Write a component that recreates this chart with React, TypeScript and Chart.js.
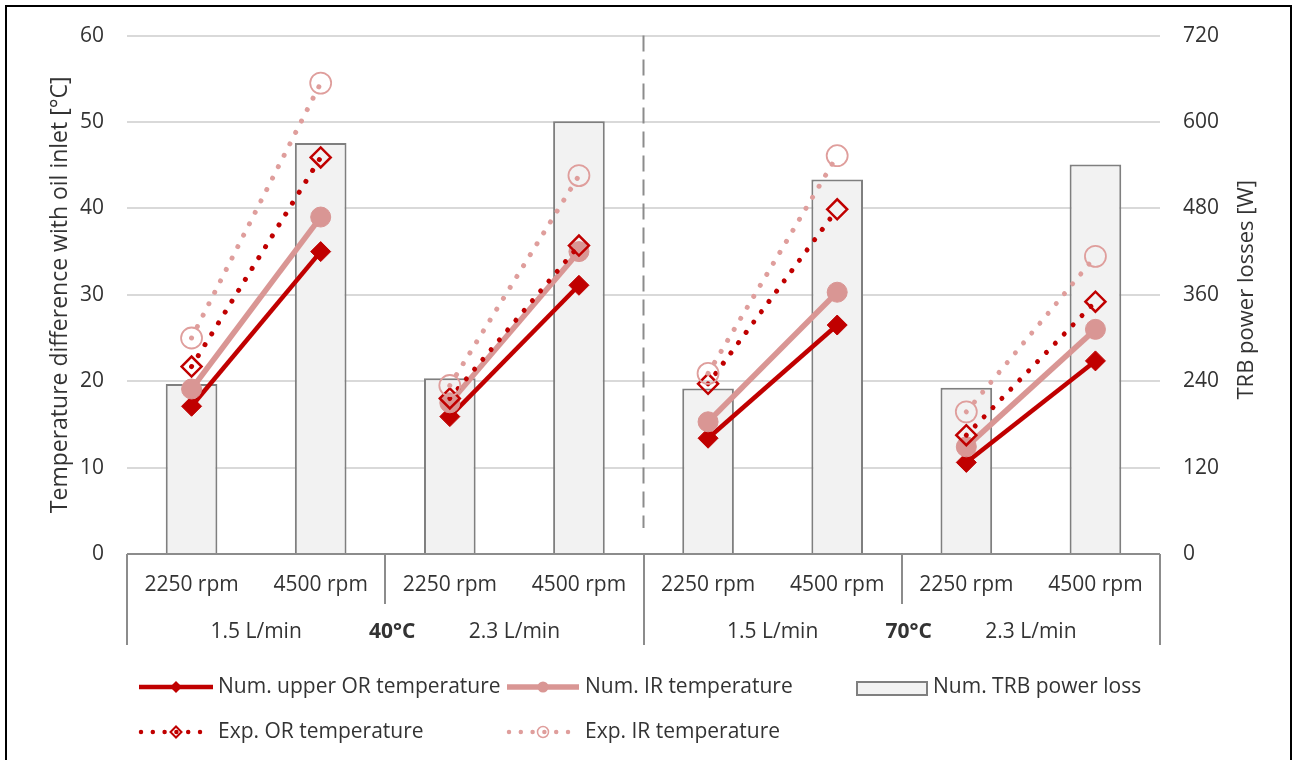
import React, { useEffect, useRef } from "react";
import { Chart, registerables } from "chart.js";

Chart.register(...registerables);

// Operating points: two speeds per flow rate, two flow rates per oil temperature
const speedLabels = ["2250 rpm", "4500 rpm", "2250 rpm", "4500 rpm", "2250 rpm", "4500 rpm", "2250 rpm", "4500 rpm"];
const flowLabels = ["1.5 L/min", "2.3 L/min", "1.5 L/min", "2.3 L/min"];
const oilTempLabels = ["40°C", "70°C"];

// Right axis: TRB power loss [W]
const powerLoss = [236, 571, 244, 601, 230, 520, 231, 541];

// Left axis: temperature difference with oil inlet [°C]
const numOuterRing = [17.1, 35.0, 15.9, 31.1, 13.4, 26.5, 10.6, 22.35];
const numInnerRing = [19.1, 39.0, 17.5, 35.0, 15.3, 30.3, 12.4, 26.0];
const expOuterRing = [21.7, 45.9, 18.0, 35.7, 19.7, 39.9, 13.75, 29.2];
const expInnerRing = [25.0, 54.5, 19.5, 43.8, 20.9, 46.1, 16.45, 34.45];

const leftTicks = { min: 0, max: 60, step: 10 };
const rightTicks = { min: 0, max: 720, step: 120 };

const DARK_RED = "#c00000";
const PINK = "#d99694";
const PINK_LIGHT = "#df9e9c";
const AXIS_GREY = "#8c8c8c";
const GRID_GREY = "#d9d9d9";
const TEXT = "#333333";
const FONT = "'Open Sans', sans-serif";

const DOT_DASH = [0.001, 12.8];

// Hide the connector between the two operating-point pairs
const pairSegment = (color: string) => ({
  borderColor: (ctx: any) => (ctx.p0DataIndex % 2 === 1 ? "rgba(0,0,0,0)" : color),
});

function diamond(ctx: CanvasRenderingContext2D, x: number, y: number, r: number) {
  ctx.beginPath();
  ctx.moveTo(x, y - r);
  ctx.lineTo(x + r, y);
  ctx.lineTo(x, y + r);
  ctx.lineTo(x - r, y);
  ctx.closePath();
}

function circle(ctx: CanvasRenderingContext2D, x: number, y: number, r: number) {
  ctx.beginPath();
  ctx.arc(x, y, r, 0, Math.PI * 2);
  ctx.closePath();
}

const decorations = {
  id: "decorations",
  beforeDatasetsDraw(chart: any) {
    const { ctx, chartArea, scales } = chart;
    const x = scales.x;
    // dashed divider between the two oil temperatures
    const mid = (x.getPixelForValue(3) + x.getPixelForValue(4)) / 2;
    ctx.save();
    ctx.strokeStyle = AXIS_GREY;
    ctx.lineWidth = 2;
    ctx.setLineDash([16, 8]);
    ctx.beginPath();
    ctx.moveTo(mid, chartArea.top);
    ctx.lineTo(mid, chartArea.bottom - 26);
    ctx.stroke();
    ctx.restore();
  },
  afterDraw(chart: any) {
    const { ctx, chartArea, scales } = chart;
    const x = scales.x;
    const n = speedLabels.length;
    const px = (i: number) => x.getPixelForValue(i);
    const boundary = (i: number) =>
      i === 0 ? chartArea.left : i === n ? chartArea.right : (px(i - 1) + px(i)) / 2;

    ctx.save();
    // category axis line and group separators
    ctx.strokeStyle = AXIS_GREY;
    ctx.lineWidth = 2;
    ctx.beginPath();
    ctx.moveTo(chartArea.left, chartArea.bottom);
    ctx.lineTo(chartArea.right, chartArea.bottom);
    ctx.stroke();
    for (let i = 0; i <= n; i += 2) {
      const bx = Math.round(boundary(i));
      const major = i % 4 === 0;
      ctx.beginPath();
      ctx.moveTo(bx, chartArea.bottom);
      ctx.lineTo(bx, chartArea.bottom + (major ? 91 : 50));
      ctx.stroke();
    }

    // category labels
    ctx.fillStyle = TEXT;
    ctx.textAlign = "center";
    ctx.textBaseline = "middle";
    ctx.font = `21px ${FONT}`;
    speedLabels.forEach((s, i) => ctx.fillText(s, px(i), chartArea.bottom + 31));
    flowLabels.forEach((s, g) => ctx.fillText(s, (px(2 * g) + px(2 * g + 1)) / 2, chartArea.bottom + 78));
    ctx.font = `bold 21px ${FONT}`;
    oilTempLabels.forEach((s, t) => ctx.fillText(s, boundary(4 * t + 2) + 7, chartArea.bottom + 78));

    // axis titles
    ctx.font = `23px ${FONT}`;
    ctx.save();
    ctx.translate(60, (chartArea.top + chartArea.bottom) / 2);
    ctx.rotate(-Math.PI / 2);
    ctx.fillText("Temperature difference with oil inlet [°C]", 0, 0);
    ctx.restore();
    ctx.font = `22px ${FONT}`;
    ctx.save();
    ctx.translate(1247, (chartArea.top + chartArea.bottom) / 2 - 5);
    ctx.rotate(-Math.PI / 2);
    ctx.fillText("TRB power losses [W]", 0, 0);
    ctx.restore();

    // legend
    ctx.font = `21px ${FONT}`;
    ctx.textAlign = "left";
    const row1 = 687;
    const row2 = 732;
    const solidSample = (x0: number, x1: number, y: number, color: string, w: number) => {
      ctx.strokeStyle = color;
      ctx.lineWidth = w;
      ctx.setLineDash([]);
      ctx.lineCap = "butt";
      ctx.beginPath();
      ctx.moveTo(x0, y);
      ctx.lineTo(x1, y);
      ctx.stroke();
    };
    const dottedSample = (x0: number, x1: number, y: number, color: string) => {
      ctx.strokeStyle = color;
      ctx.lineWidth = 4.5;
      ctx.setLineDash([0.001, 11.8]);
      ctx.lineCap = "round";
      ctx.beginPath();
      ctx.moveTo(x0, y);
      ctx.lineTo(x1, y);
      ctx.stroke();
      ctx.setLineDash([]);
    };

    solidSample(139, 213, row1, DARK_RED, 4.5);
    diamond(ctx, 176, row1, 6);
    ctx.fillStyle = DARK_RED;
    ctx.fill();
    ctx.fillStyle = TEXT;
    ctx.fillText("Num. upper OR temperature", 218, row1);

    solidSample(507, 579, row1, PINK, 5.5);
    circle(ctx, 543, row1, 5.5);
    ctx.fillStyle = PINK;
    ctx.fill();
    ctx.fillStyle = TEXT;
    ctx.fillText("Num. IR temperature", 585, row1);

    ctx.fillStyle = "#f2f2f2";
    ctx.fillRect(857, 682, 70, 13);
    ctx.strokeStyle = "#7f7f7f";
    ctx.lineWidth = 2;
    ctx.strokeRect(857, 682, 70, 13);
    ctx.fillStyle = TEXT;
    ctx.fillText("Num. TRB power loss", 933, row1);

    dottedSample(141, 211, row2, DARK_RED);
    diamond(ctx, 176, row2, 5.5);
    ctx.strokeStyle = DARK_RED;
    ctx.lineWidth = 2;
    ctx.stroke();
    ctx.fillStyle = TEXT;
    ctx.fillText("Exp. OR temperature", 218, row2);

    dottedSample(509, 579, row2, PINK_LIGHT);
    circle(ctx, 543, row2, 5.5);
    ctx.strokeStyle = PINK_LIGHT;
    ctx.lineWidth = 1.5;
    ctx.stroke();
    ctx.fillStyle = TEXT;
    ctx.fillText("Exp. IR temperature", 585, row2);

    // outer frame
    ctx.strokeStyle = "#000000";
    ctx.lineWidth = 2;
    ctx.strokeRect(6, 6, 1285, 770);
    ctx.restore();
  },
};

export default function App() {
  const canvasRef = useRef<HTMLCanvasElement | null>(null);

  useEffect(() => {
    document.body.style.margin = "0";
    const canvas = canvasRef.current;
    if (!canvas) return;

    const chart = new Chart(canvas, {
      type: "bar",
      data: {
        labels: speedLabels,
        datasets: [
          {
            type: "line",
            label: "Num. upper OR temperature",
            data: numOuterRing,
            yAxisID: "y",
            order: 4,
            borderColor: DARK_RED,
            borderWidth: 4.5,
            segment: pairSegment(DARK_RED),
            pointStyle: "rectRot",
            pointRadius: 10,
            pointBackgroundColor: DARK_RED,
            pointBorderColor: DARK_RED,
            pointBorderWidth: 1,
          } as any,
          {
            type: "line",
            label: "Num. IR temperature",
            data: numInnerRing,
            yAxisID: "y",
            order: 3,
            borderColor: PINK,
            borderWidth: 5.5,
            segment: pairSegment(PINK),
            pointStyle: "circle",
            pointRadius: 10,
            pointBackgroundColor: PINK,
            pointBorderColor: PINK,
            pointBorderWidth: 1,
          } as any,
          {
            type: "line",
            label: "Exp. OR temperature",
            data: expOuterRing,
            yAxisID: "y",
            order: 2,
            borderColor: DARK_RED,
            borderWidth: 5,
            borderDash: DOT_DASH,
            borderCapStyle: "round",
            segment: pairSegment(DARK_RED),
            pointStyle: "rectRot",
            pointRadius: 10,
            pointBackgroundColor: "rgba(0,0,0,0)",
            pointBorderColor: DARK_RED,
            pointBorderWidth: 2.5,
          } as any,
          {
            type: "line",
            label: "Exp. IR temperature",
            data: expInnerRing,
            yAxisID: "y",
            order: 1,
            borderColor: PINK_LIGHT,
            borderWidth: 5,
            borderDash: DOT_DASH,
            borderCapStyle: "round",
            segment: pairSegment(PINK_LIGHT),
            pointStyle: "circle",
            pointRadius: 10.5,
            pointBackgroundColor: "rgba(0,0,0,0)",
            pointBorderColor: PINK_LIGHT,
            pointBorderWidth: 1.8,
          } as any,
          {
            type: "bar",
            label: "Num. TRB power loss",
            data: powerLoss,
            yAxisID: "y1",
            order: 10,
            backgroundColor: "#f2f2f2",
            borderColor: "#7f7f7f",
            borderWidth: 2,
            barPercentage: 0.4,
            categoryPercentage: 1,
          },
        ],
      },
      options: {
        responsive: false,
        animation: false,
        layout: { padding: { top: 35, left: 0, right: 0, bottom: 0 } },
        plugins: {
          legend: { display: false },
          tooltip: { enabled: false },
        },
        scales: {
          x: {
            ticks: { display: false },
            grid: { display: false },
            border: { display: false },
            afterFit: (scale: any) => {
              scale.height = 206;
            },
          },
          y: {
            position: "left",
            min: leftTicks.min,
            max: leftTicks.max,
            ticks: {
              stepSize: leftTicks.step,
              padding: 23,
              color: TEXT,
              font: { family: FONT, size: 21 },
            },
            grid: { color: GRID_GREY, lineWidth: 2, drawTicks: false },
            border: { display: false },
            afterFit: (scale: any) => {
              scale.width = 127;
            },
          },
          y1: {
            position: "right",
            min: rightTicks.min,
            max: rightTicks.max,
            ticks: {
              stepSize: rightTicks.step,
              padding: 23,
              color: TEXT,
              font: { family: FONT, size: 21 },
            },
            grid: { drawOnChartArea: false, drawTicks: false },
            border: { display: false },
            afterFit: (scale: any) => {
              scale.width = 133;
            },
          },
        },
      } as any,
      plugins: [decorations],
    });

    return () => chart.destroy();
  }, []);

  return (
    <div style={{ width: 1293, height: 760, background: "#ffffff" }}>
      <canvas ref={canvasRef} width={1293} height={760} />
    </div>
  );
}
